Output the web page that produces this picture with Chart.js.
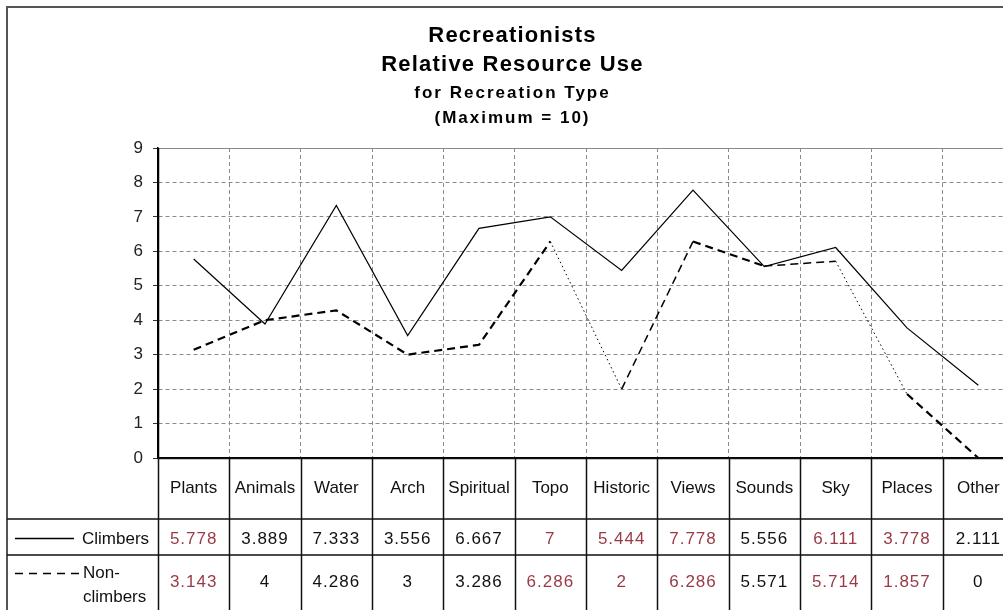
<!DOCTYPE html>
<html><head><meta charset="utf-8">
<script src="https://cdn.jsdelivr.net/npm/chart.js@4.4.1/dist/chart.umd.min.js"></script>
<style>
html,body{margin:0;padding:0;background:#fff;overflow:hidden;width:1003px;height:610px}
canvas{display:block}
</style></head><body>
<canvas id="c" width="1025" height="610"></canvas>
<script>
const categories = ["Plants","Animals","Water","Arch","Spiritual","Topo","Historic","Views","Sounds","Sky","Places","Other"];
const climbers = [5.778, 3.889, 7.333, 3.556, 6.667, 7, 5.444, 7.778, 5.556, 6.111, 3.778, 2.111];
const nonClimbers = [3.143, 4, 4.286, 3, 3.286, 6.286, 2, 6.286, 5.571, 5.714, 1.857, 0];
const climbersText = ["5.778","3.889","7.333","3.556","6.667","7","5.444","7.778","5.556","6.111","3.778","2.111"];
const nonClimbersText = ["3.143","4","4.286","3","3.286","6.286","2","6.286","5.571","5.714","1.857","0"];
const highlightedIdx = [0, 5, 6, 7, 9, 10];
const yTickLabels = ["0","1","2","3","4","5","6","7","8","9"];
const titleLines = ["Recreationists", "Relative Resource Use"];
const subtitleLines = ["for Recreation Type", "(Maximum = 10)"];
const seriesNames = ["Climbers", "Non-climbers"];

const FONT = 'Arial, "Liberation Sans", sans-serif';
const RED = '#9a3a46';

const decor = {
  id: 'decor',
  beforeDraw(chart) {
    const ctx = chart.ctx;
    ctx.save();
    ctx.fillStyle = '#fff';
    ctx.fillRect(0, 0, chart.width, chart.height);
    ctx.restore();
  },
  afterDraw(chart) {
    const ctx = chart.ctx;
    const ca = chart.chartArea;
    const xs = chart.scales.x;
    ctx.save();
    // outer frame
    ctx.strokeStyle = '#555';
    ctx.lineWidth = 2;
    ctx.beginPath();
    ctx.moveTo(7, chart.height); ctx.lineTo(7, 7); ctx.lineTo(chart.width, 7);
    ctx.stroke();
    // plot top border
    ctx.strokeStyle = '#888';
    ctx.lineWidth = 1;
    ctx.beginPath();
    ctx.moveTo(ca.left, ca.top + 0.5); ctx.lineTo(ca.right, ca.top + 0.5);
    ctx.stroke();
    // solid y axis line
    ctx.strokeStyle = '#000';
    ctx.lineWidth = 1.5;
    ctx.beginPath();
    ctx.moveTo(ca.left + 0.5, ca.top); ctx.lineTo(ca.left + 0.5, ca.bottom);
    ctx.stroke();
    // titles
    const cx = chart.width / 2;
    ctx.fillStyle = '#000';
    ctx.textAlign = 'center';
    ctx.textBaseline = 'middle';
    ctx.font = 'bold 22px ' + FONT;
    ctx.letterSpacing = '1.2px';
    ctx.fillText(titleLines[0], cx, 36);
    ctx.fillText(titleLines[1], cx, 65);
    ctx.font = 'bold 17px ' + FONT;
    ctx.letterSpacing = '2px';
    ctx.fillText(subtitleLines[0], cx, 93);
    ctx.fillText(subtitleLines[1], cx, 118);
    // data table
    const w = xs.getPixelForValue(1) - xs.getPixelForValue(0);
    const x0 = xs.getPixelForValue(0) - w / 2;
    const yTop = ca.bottom;
    const r1 = yTop + 61, r2 = yTop + 97;
    ctx.strokeStyle = '#111';
    ctx.lineWidth = 1.5;
    ctx.beginPath();
    for (let i = 0; i <= categories.length; i++) {
      const bx = Math.round(x0 + i * w) + 0.5;
      ctx.moveTo(bx, yTop); ctx.lineTo(bx, chart.height);
    }
    ctx.moveTo(ca.left, yTop + 0.5); ctx.lineTo(chart.width, yTop + 0.5);
    ctx.moveTo(7, r1); ctx.lineTo(chart.width, r1);
    ctx.moveTo(7, r2); ctx.lineTo(chart.width, r2);
    ctx.stroke();
    ctx.letterSpacing = '0px';
    ctx.font = '17px ' + FONT;
    ctx.fillStyle = '#111';
    categories.forEach((c, i) => {
      ctx.fillText(c, xs.getPixelForValue(i), yTop + 30);
    });
    ctx.letterSpacing = '1px';
    climbersText.forEach((t, i) => {
      ctx.fillStyle = highlightedIdx.includes(i) ? RED : '#111';
      ctx.fillText(t, xs.getPixelForValue(i), r1 + 20);
    });
    nonClimbersText.forEach((t, i) => {
      ctx.fillStyle = highlightedIdx.includes(i) ? RED : '#111';
      ctx.fillText(t, xs.getPixelForValue(i), r2 + 27);
    });
    // legend keys
    ctx.letterSpacing = '0px';
    ctx.fillStyle = '#111';
    ctx.textAlign = 'left';
    ctx.fillText(seriesNames[0], 82, r1 + 20);
    ctx.fillText('Non-', 83, r2 + 18);
    ctx.fillText('climbers', 83, r2 + 42);
    ctx.strokeStyle = '#000';
    ctx.lineWidth = 1.5;
    ctx.beginPath();
    ctx.moveTo(15, r1 + 19.5); ctx.lineTo(74, r1 + 19.5);
    ctx.stroke();
    ctx.setLineDash([8, 6]);
    ctx.beginPath();
    ctx.moveTo(15, r2 + 18.5); ctx.lineTo(81, r2 + 18.5);
    ctx.stroke();
    ctx.restore();
  }
};

new Chart(document.getElementById('c'), {
  type: 'line',
  data: {
    labels: categories,
    datasets: [
      {
        label: seriesNames[0],
        data: climbers,
        borderColor: '#000',
        borderWidth: 1.2,
        pointRadius: 0,
        tension: 0,
        fill: false
      },
      {
        label: seriesNames[1],
        data: nonClimbers,
        borderColor: '#000',
        borderWidth: 2,
        borderDash: [8, 5],
        pointRadius: 0,
        tension: 0,
        fill: false,
        segment: {
          borderDash: ctx => (ctx.p0DataIndex === 5 || ctx.p0DataIndex === 9) ? [1.5, 3] : [8, 5],
          borderWidth: ctx => (ctx.p0DataIndex === 5 || ctx.p0DataIndex === 9) ? 1 : ((ctx.p0DataIndex === 6 || ctx.p0DataIndex === 8) ? 1.5 : 2.2)
        }
      }
    ]
  },
  options: {
    responsive: false,
    animation: false,
    devicePixelRatio: 1,
    layout: { padding: { top: 148, left: 0, right: 11, bottom: 0 } },
    plugins: { legend: { display: false }, title: { display: false }, tooltip: { enabled: false } },
    scales: {
      x: {
        type: 'category',
        offset: true,
        grid: { offset: true, color: '#8a8a8a', drawTicks: false, lineWidth: 1 },
        border: { display: true, color: '#000', width: 1.5, dash: [4, 3] },
        ticks: { display: false },
        afterFit: s => { s.height = 152; }
      },
      y: {
        min: 0,
        max: 9,
        ticks: {
          stepSize: 1,
          padding: 10,
          color: '#222',
          font: { family: FONT, size: 17 },
          callback: (v) => yTickLabels[v]
        },
        grid: { color: '#8a8a8a', tickLength: 5, tickColor: '#333', tickBorderDash: [], lineWidth: 1 },
        border: { display: true, color: '#000', width: 1.5, dash: [4, 3] },
        afterFit: s => { s.width = 158; }
      }
    }
  },
  plugins: [decor]
});
</script>
</body></html>
